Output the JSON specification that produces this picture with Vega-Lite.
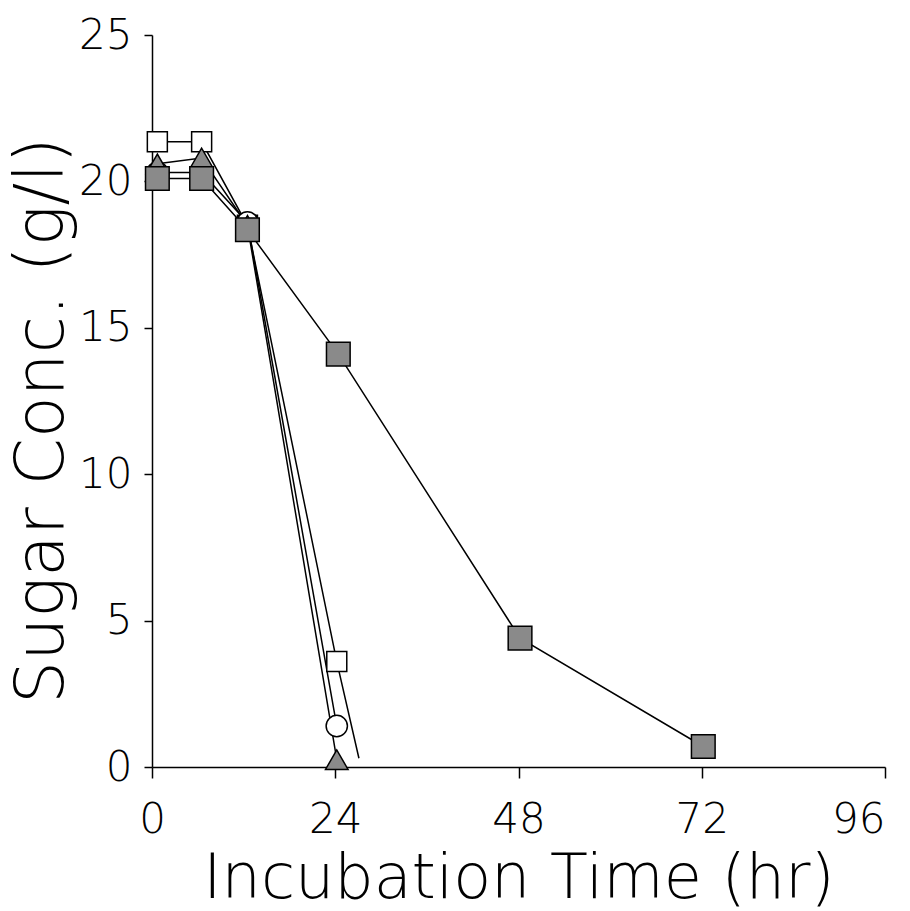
{
  "$schema": "https://vega.github.io/schema/vega-lite/v6.json",
  "autosize": "none",
  "width": 733,
  "height": 732,
  "padding": {"left": 152, "top": 35, "right": 25, "bottom": 144},
  "background": "white",
  "config": {
    "view": {"stroke": null},
    "font": "DejaVu Sans",
    "axis": {"grid": false, "domainColor": "black", "tickColor": "black", "domainWidth": 1.5, "tickWidth": 1.5,
      "labelColor": "black", "titleColor": "black", "labelFont": "DejaVu Sans", "titleFont": "DejaVu Sans",
      "labelFontWeight": 200, "titleFontWeight": 200}
  },
  "data": {"values": [
    {"series": "A", "x": 0.7, "y": 21.35, "show": true},
    {"series": "A", "x": 6.5, "y": 21.35, "show": true},
    {"series": "A", "x": 12.5, "y": 18.5, "show": true},
    {"series": "A", "x": 24.2, "y": 3.6, "show": true},
    {"series": "A", "x": 27.1, "y": 0.3, "show": false},
    {"series": "B", "x": 0.7, "y": 20.3, "show": true},
    {"series": "B", "x": 6.5, "y": 20.3, "show": true},
    {"series": "B", "x": 12.5, "y": 18.6, "show": true},
    {"series": "B", "x": 24.2, "y": 1.4, "show": true},
    {"series": "C", "x": 0.7, "y": 20.6, "show": true},
    {"series": "C", "x": 6.5, "y": 20.8, "show": true},
    {"series": "C", "x": 12.5, "y": 18.5, "show": true},
    {"series": "C", "x": 24.2, "y": 0.25, "show": true},
    {"series": "D", "x": 0.7, "y": 20.1, "show": true},
    {"series": "D", "x": 6.5, "y": 20.1, "show": true},
    {"series": "D", "x": 12.5, "y": 18.35, "show": true},
    {"series": "D", "x": 24.4, "y": 14.1, "show": true},
    {"series": "D", "x": 48.2, "y": 4.4, "show": true},
    {"series": "D", "x": 72.2, "y": 0.7, "show": true}
  ]},
  "encoding": {
    "x": {"field": "x", "type": "quantitative",
      "scale": {"domain": [0, 96], "nice": false, "zero": false},
      "axis": {"values": [0, 24, 48, 72, 96], "title": "Incubation Time (hr)", "tickSize": 11,
        "labelFlush": false,
        "labelAlign": {"condition": {"test": "datum.value == 96", "value": "right"}, "value": "center"},
        "labelFontSize": 42, "labelPadding": 21, "titleFontSize": 62, "titlePadding": 8}},
    "y": {"field": "y", "type": "quantitative",
      "scale": {"domain": [0, 25], "nice": false},
      "axis": {"values": [0, 5, 10, 15, 20, 25], "title": "Sugar Conc. (g/l)", "tickSize": 8,
        "labelFontSize": 42, "labelPadding": 12, "titleFontSize": 68, "titlePadding": 2, "titleY": 385}}
  },
  "layer": [
    {"mark": {"type": "line", "color": "black", "strokeWidth": 1.5},
     "encoding": {"detail": {"field": "series"}, "order": {"field": "x"}}},
    {"transform": [{"filter": "datum.show"}],
     "mark": {"type": "point", "filled": true, "stroke": "black", "strokeWidth": 1.5, "opacity": 1},
     "encoding": {
       "shape": {"field": "series", "scale": {"domain": ["A", "B", "C", "D"], "range": ["square", "circle", "triangle-up", "square"]}, "legend": null},
       "fill": {"field": "series", "scale": {"domain": ["A", "B", "C", "D"], "range": ["white", "white", "#8a8a8a", "#8a8a8a"]}, "legend": null},
       "size": {"field": "series", "type": "nominal", "scale": {"domain": ["A", "B", "C", "D"], "range": [400, 560, 380, 400]}, "legend": null}
     }}
  ]
}
